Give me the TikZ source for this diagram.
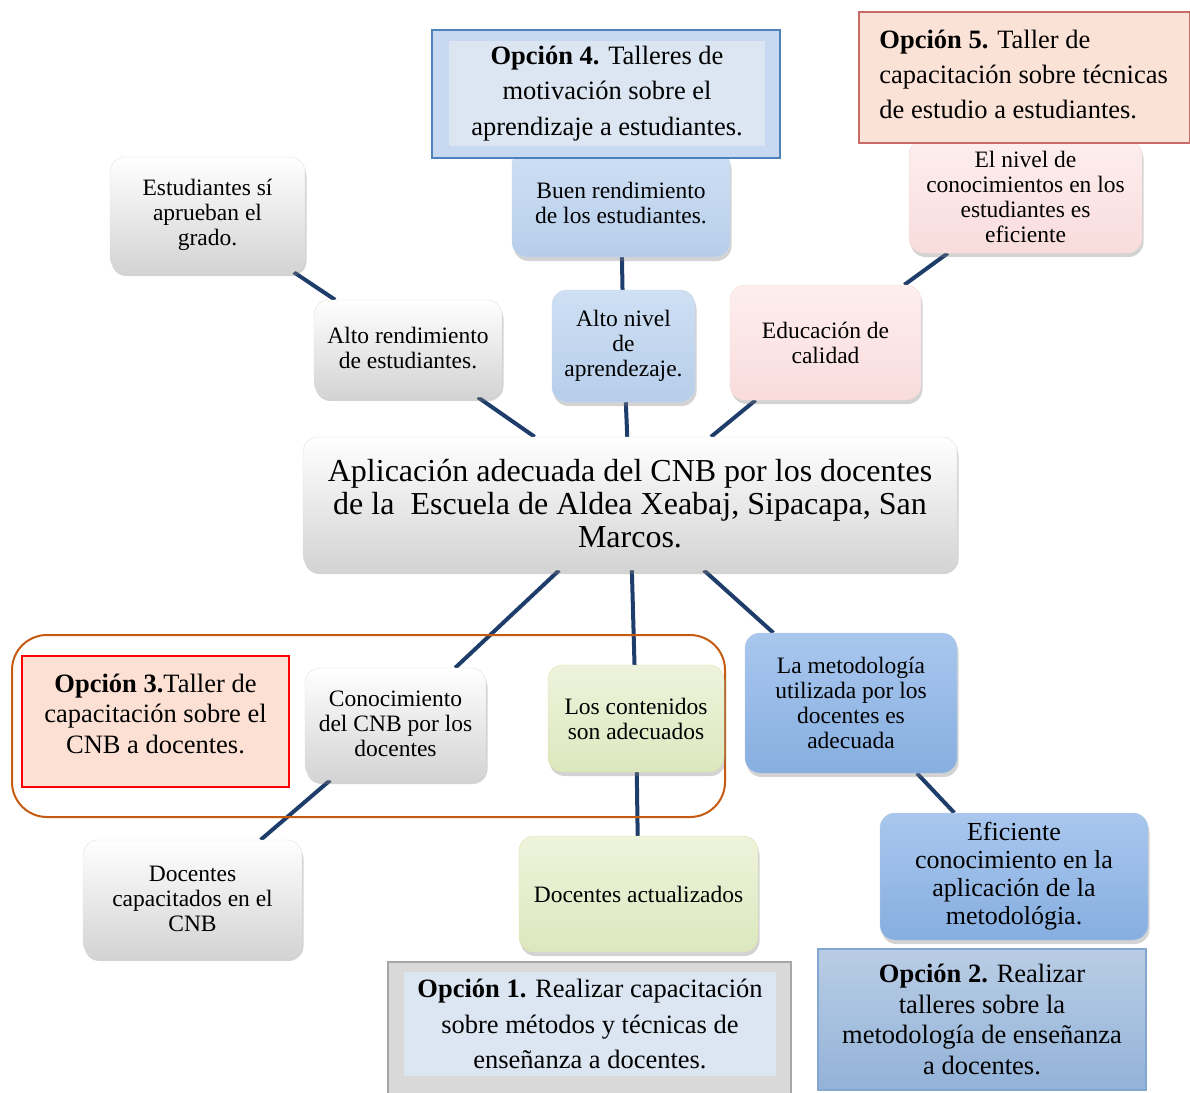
\documentclass[tikz,border=0pt]{standalone}
\usepackage{fontspec}
\setmainfont{Liberation Serif}
\usetikzlibrary{shadows,backgrounds}
\definecolor{linkblue}{HTML}{1F3D6B}
\definecolor{optblue}{HTML}{C6D9F1}
\definecolor{optpale}{HTML}{DCE6F2}
\definecolor{optedge}{HTML}{4F81BD}
\definecolor{optpeach}{HTML}{FBE2D6}
\definecolor{optred}{HTML}{C0504D}
\definecolor{opt3fill}{HTML}{FBE0D3}
\definecolor{grpedge}{HTML}{C55A11}
\definecolor{bluetop}{HTML}{CFE0F4}
\definecolor{bluebot}{HTML}{B6CDEA}
\definecolor{deeptop}{HTML}{A9C7EE}
\definecolor{deepbot}{HTML}{86AEE0}
\definecolor{pinktop}{HTML}{FEEEEE}
\definecolor{pinkbot}{HTML}{F9DCDC}
\definecolor{greentop}{HTML}{EEF4DC}
\definecolor{greenbot}{HTML}{DCE7BE}
\definecolor{opt2top}{HTML}{B9CDE5}
\definecolor{opt2bot}{HTML}{93B2D8}
\tikzset{
  card/.style={ % rounded box of the tree
    rectangle, rounded corners=15pt, draw=black!12, thin,
    align=center, inner sep=2pt, text=black,
    font=\fontsize{23.5}{25}\selectfont,
    drop shadow={shadow xshift=1.5pt, shadow yshift=-4pt, opacity=.35}
  },
  greycard/.style={card, top color=white, middle color=white, bottom color=black!17},
  bluecard/.style={card, top color=bluetop, bottom color=bluebot, draw=optedge!30},
  deepcard/.style={card, top color=deeptop, bottom color=deepbot, draw=optedge!40},
  pinkcard/.style={card, top color=pinktop, bottom color=pinkbot, draw=optred!20},
  greencard/.style={card, top color=greentop, bottom color=greenbot, draw=olive!25},
  optbox/.style={ % square box with a proposal
    rectangle, draw, line width=1.5pt, inner sep=0pt,
    align=center, text=black,
    font=\fontsize{26.5}{35.5}\selectfont
  },
  optpane/.style={rectangle, fill=optpale, inner sep=0pt, align=center, text=black,
    font=\fontsize{26.5}{35.5}\selectfont},
  link/.style={draw=linkblue, line width=4pt}
}
\begin{document}
\begin{tikzpicture}[x=1pt, y=-1pt]
  \useasboundingbox (0,0) rectangle (1190,1092);

  % upper branch
  \node[greycard, minimum width=195pt, minimum height=115pt] (est) at (207.5,214.5) {Estudiantes sí\\aprueban el\\grado.};
  \node[bluecard, minimum width=218pt, minimum height=107pt] (buen) at (621,203.5) {Buen rendimiento\\de los estudiantes.};
  \node[pinkcard, minimum width=233pt, minimum height=113pt] (nivel) at (1025.5,196.5) {El nivel de\\conocimientos en los\\estudiantes es\\eficiente};
  \node[greycard, minimum width=188pt, minimum height=97pt] (altoR) at (408,348.5) {Alto rendimiento\\de estudiantes.};
  \node[bluecard, minimum width=143pt, minimum height=112pt] (altoN) at (623.5,346) {Alto nivel\\de\\aprendezaje.};
  \node[pinkcard, minimum width=191pt, minimum height=115pt] (edu) at (825.5,342.5) {Educación de\\calidad};

  % centre
  \node[greycard, minimum width=654pt, minimum height=133pt, font=\fontsize{32}{33}\selectfont] (central) at (630,503.5)
    {Aplicación adecuada del CNB por los docentes\\de la~ Escuela de Aldea Xeabaj, Sipacapa, San\\Marcos.};

  % lower branch
  \node[draw=grpedge, line width=2pt, rounded corners=35pt, minimum width=713pt, minimum height=182pt] (grp) at (368.5,726) {};
  \node[greycard, minimum width=181pt, minimum height=112pt] (cono) at (395.5,724) {Conocimiento\\del CNB por los\\docentes};
  \node[greencard, minimum width=176pt, minimum height=107pt] (cont) at (636,718.5) {Los contenidos\\son adecuados};
  \node[deepcard, minimum width=212pt, minimum height=140pt] (metod) at (851,703) {La metodología\\utilizada por los\\docentes es\\adecuada};
  \node[greycard, minimum width=219pt, minimum height=117pt] (capac) at (192.5,898.5) {Docentes\\capacitados en el\\CNB};
  \node[greencard, minimum width=239pt, minimum height=116pt] (actual) at (638.5,894) {Docentes actualizados};
  \node[deepcard, minimum width=268pt, minimum height=127pt, font=\fontsize{26}{28}\selectfont] (efic) at (1014,876.5)
    {Eficiente\\conocimiento en la\\aplicación de la\\metodológia.};

  % proposals
  \node[optbox, draw=optedge, fill=optblue, minimum width=348pt, minimum height=128pt] (opt4) at (606,94) {};
  \node[optpane, minimum width=316pt, minimum height=105pt] (opt4txt) at (607,93.5)
    {\textbf{Opción 4.} Talleres de\\motivación sobre el\\aprendizaje a estudiantes.};
  \node[optbox, draw=optred!85, fill=optpeach, minimum width=331pt, minimum height=131pt] (opt5) at (1024.5,77.5) {};
  \node[anchor=west, align=left, inner sep=0pt, font=\fontsize{26.5}{35}\selectfont] (opt5txt) at ([xshift=21pt, yshift=3.5pt]opt5.west)
    {\textbf{Opción 5.} Taller de\\capacitación sobre técnicas\\de estudio a estudiantes.};
  \node[optbox, draw=red, fill=opt3fill, minimum width=267pt, minimum height=131pt] (opt3) at (155.5,721.5) {};
  \node[align=center, inner sep=0pt, font=\fontsize{26.5}{30.5}\selectfont] (opt3txt) at ([yshift=8pt]opt3.center)
    {\textbf{Opción 3.}Taller de\\capacitación sobre el\\CNB a docentes.};
  \node[optbox, draw=black!35, fill=black!15, minimum width=403pt, minimum height=134pt] (opt1) at (589.5,1029) {};
  \node[optpane, minimum width=372pt, minimum height=104pt] (opt1txt) at (590,1024)
    {\textbf{Opción 1.} Realizar capacitación\\sobre métodos y técnicas de\\enseñanza a docentes.};
  \node[optbox, draw=optedge!70, top color=opt2top, bottom color=opt2bot, minimum width=328pt, minimum height=141pt,
    font=\fontsize{26.5}{30.7}\selectfont] (opt2) at (982,1019.5)
    {\textbf{Opción 2.} Realizar\\talleres sobre la\\metodología de enseñanza\\a docentes.};

  % connectors, centre to centre, hidden under the boxes
  \begin{scope}[on background layer]
    \draw[link] (est) -- (altoR);
    \draw[link] (buen) -- (altoN);
    \draw[link] (nivel) -- (edu);
    \draw[link] (altoR) -- (central);
    \draw[link] (altoN) -- (central);
    \draw[link] (edu) -- (central);
    \draw[link] (central) -- (cono);
    \draw[link] (central) -- (cont);
    \draw[link] (central) -- (metod);
    \draw[link] (cono) -- (capac);
    \draw[link] (cont) -- (actual);
    \draw[link] (metod) -- (efic);
  \end{scope}
\end{tikzpicture}
\end{document}
